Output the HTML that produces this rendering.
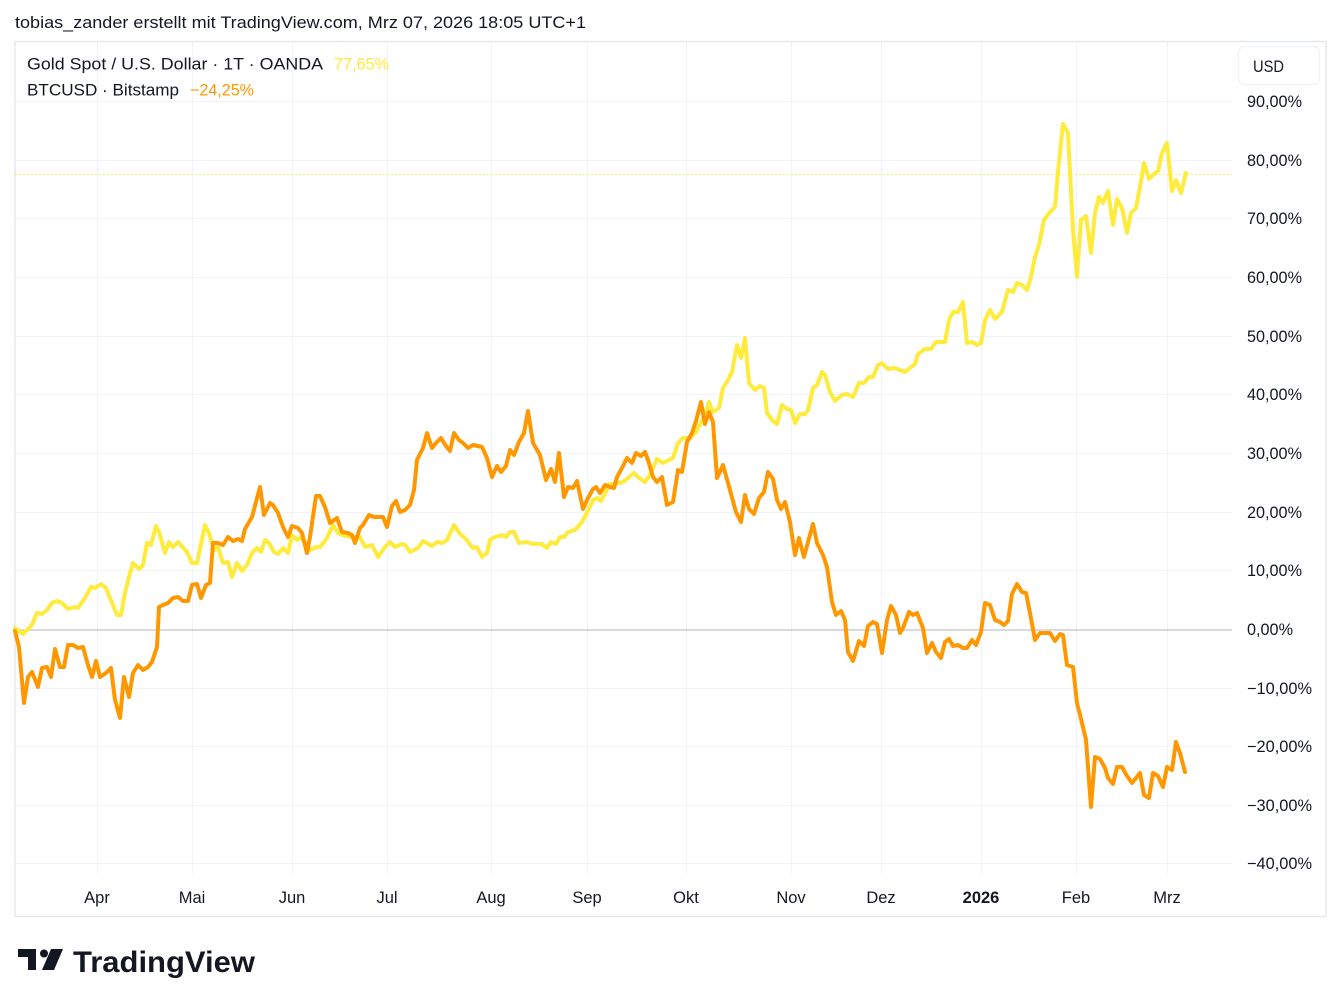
<!DOCTYPE html>
<html><head><meta charset="utf-8"><style>
html,body{margin:0;padding:0;background:#fff;}
svg{display:block;}
text{font-family:"Liberation Sans","DejaVu Sans",sans-serif;fill:#131722;}
</style></head><body>
<svg width="1341" height="1007" viewBox="0 0 1341 1007" xmlns="http://www.w3.org/2000/svg">
<rect width="1341" height="1007" fill="#fff"/>
<text x="15" y="28" font-size="16.5" textLength="571" lengthAdjust="spacingAndGlyphs">tobias_zander erstellt mit TradingView.com, Mrz 07, 2026 18:05 UTC+1</text>
<!-- frame -->
<rect x="15" y="41.5" width="1311" height="875" fill="none" stroke="#e6e8ee" stroke-width="1.5"/>
<!-- grid -->
<g stroke="#f0f3fa" stroke-width="1">
<line x1="15" y1="101.5" x2="1232" y2="101.5"/>
<line x1="15" y1="160.5" x2="1232" y2="160.5"/>
<line x1="15" y1="218.5" x2="1232" y2="218.5"/>
<line x1="15" y1="277.5" x2="1232" y2="277.5"/>
<line x1="15" y1="336.5" x2="1232" y2="336.5"/>
<line x1="15" y1="394.5" x2="1232" y2="394.5"/>
<line x1="15" y1="453.5" x2="1232" y2="453.5"/>
<line x1="15" y1="512.5" x2="1232" y2="512.5"/>
<line x1="15" y1="570.5" x2="1232" y2="570.5"/>
<line x1="15" y1="688.5" x2="1232" y2="688.5"/>
<line x1="15" y1="746.5" x2="1232" y2="746.5"/>
<line x1="15" y1="805.5" x2="1232" y2="805.5"/>
<line x1="15" y1="863.5" x2="1232" y2="863.5"/>
<line x1="97.5" y1="42" x2="97.5" y2="875"/>
<line x1="192.5" y1="42" x2="192.5" y2="875"/>
<line x1="292.5" y1="42" x2="292.5" y2="875"/>
<line x1="387.5" y1="42" x2="387.5" y2="875"/>
<line x1="491.5" y1="42" x2="491.5" y2="875"/>
<line x1="587.5" y1="42" x2="587.5" y2="875"/>
<line x1="686.5" y1="42" x2="686.5" y2="875"/>
<line x1="791.5" y1="42" x2="791.5" y2="875"/>
<line x1="881.5" y1="42" x2="881.5" y2="875"/>
<line x1="981.5" y1="42" x2="981.5" y2="875"/>
<line x1="1076.5" y1="42" x2="1076.5" y2="875"/>
<line x1="1167.5" y1="42" x2="1167.5" y2="875"/>
</g>
<line x1="15" y1="630" x2="1232" y2="630" stroke="#b2b5be" stroke-width="1"/>
<line x1="15" y1="174.5" x2="1232" y2="174.5" stroke="#ffeb3b" stroke-width="1" stroke-dasharray="1.5 2.5"/>
<!-- gold -->
<polyline fill="none" stroke="#ffeb3b" stroke-width="4" stroke-linejoin="round" stroke-linecap="round" points="15,628 23,634 32,625 37,613 42,614 47,610 52,603 57,601 62,603 68,609 75,607 78,608 85,598 91,587 95,588 101,584 106,588 112,603 117,615 121,615 125,593 130,573 133,563 139,569 143,565 147,543 151,545 156,526 159,532 165,553 169,542 173,547 178,542 187,552 192,563 197,563 205,525 209,533 214,550 218,547 223,563 228,562 232,577 237,563 242,571 247,565 252,553 257,548 261,552 265,540 269,543 274,552 278,554 283,548 288,553 292,535 297,540 301,537 305,543 310,550 317,547 320,547 327,538 333,525 338,533 345,536 353,537 360,537 365,547 372,545 378,557 385,547 390,542 395,547 402,544 405,545 410,552 418,548 423,541 432,546 437,542 442,543 447,540 454,525 460,534 465,538 473,548 477,547 482,557 487,553 490,540 495,537 502,535 506,537 510,532 514,532 519,543 527,542 533,544 542,544 547,548 551,542 556,544 560,537 564,537 568,532 575,530 582,522 587,513 593,500 597,498 601,501 605,493 610,484 615,484 623,482 628,478 634,473 638,477 645,482 650,475 657,459 663,463 673,458 678,443 683,438 690,438 696,432 702,420 705,415 709,402 713,412 719,408 723,388 728,380 732,372 737,345 741,358 745,338 749,383 755,390 760,386 764,388 767,413 773,421 777,424 782,405 787,409 791,410 795,423 800,414 805,414 808,410 813,388 817,385 822,372 825,375 830,392 835,401 842,395 847,394 853,397 859,383 864,383 869,377 873,377 878,365 882,363 888,369 894,368 900,370 905,372 910,368 915,364 918,354 925,349 931,349 936,342 945,342 949,320 953,312 958,312 963,302 967,343 972,342 977,345 981,343 985,320 990,310 995,319 1002,312 1008,290 1013,292 1017,283 1022,285 1027,290 1031,277 1035,257 1039,245 1044,220 1050,212 1055,207 1058,172 1063,124 1068,133 1073,230 1077,277 1081,220 1086,216 1091,253 1095,213 1099,197 1103,203 1108,191 1113,225 1117,199 1122,208 1127,233 1131,213 1136,208 1140,187 1144,163 1149,179 1153,175 1158,171 1162,153 1167,143 1172,191 1176,180 1181,193 1186,173"/>
<!-- btc -->
<polyline fill="none" stroke="#ff9800" stroke-width="4" stroke-linejoin="round" stroke-linecap="round" points="15,631 19,647 24,703 28,677 32,672 38,687 42,668 47,667 51,677 55,649 60,667 64,667 68,645 73,645 78,648 83,647 88,665 92,677 96,661 100,677 106,673 111,668 115,700 120,718 124,677 129,697 133,673 138,665 143,670 148,667 152,662 157,647 159,607 163,605 168,603 173,598 178,597 183,601 188,601 192,585 197,584 201,598 206,585 210,583 213,543 218,543 223,545 228,537 233,541 238,539 242,541 245,529 252,517 260,487 264,515 270,503 273,505 278,513 283,527 288,537 292,526 298,528 302,533 307,553 310,537 316,496 320,496 325,507 330,523 337,518 342,532 348,533 352,535 355,543 360,528 363,525 369,515 374,517 383,517 387,527 392,506 396,501 400,512 405,510 410,505 414,490 417,460 423,448 427,433 432,448 436,443 441,438 446,446 450,451 454,433 459,440 463,443 468,448 473,445 482,447 487,458 492,477 497,466 501,472 506,466 510,450 514,455 519,442 524,433 528,411 533,443 540,455 546,480 551,469 555,482 559,453 564,497 568,487 573,488 577,481 583,509 588,498 593,489 596,487 600,493 605,485 610,487 614,488 617,477 622,468 627,458 632,463 636,453 641,456 645,452 648,460 653,477 657,482 662,477 667,505 673,502 678,470 682,472 687,442 692,433 696,421 701,402 705,424 709,412 713,422 717,478 723,465 728,483 736,512 741,522 745,495 749,509 754,514 759,498 764,492 768,472 773,479 777,500 781,509 785,502 790,522 795,555 799,538 804,557 808,542 813,524 817,543 823,555 827,567 832,602 836,615 841,611 845,620 848,652 853,661 859,641 864,646 868,626 873,622 877,624 882,653 887,620 891,606 896,615 900,633 903,628 909,612 913,615 917,613 923,628 927,653 932,643 936,652 941,658 945,642 949,639 953,646 958,645 963,648 967,648 972,640 976,645 981,632 985,603 990,605 995,620 1000,622 1004,625 1008,621 1012,594 1017,584 1022,592 1026,593 1030,613 1035,640 1040,633 1050,633 1055,641 1060,634 1063,635 1067,665 1073,667 1077,703 1082,723 1086,740 1091,807 1095,757 1100,759 1105,768 1108,778 1113,784 1117,767 1122,767 1127,776 1132,783 1136,778 1140,773 1144,795 1149,798 1153,773 1158,776 1163,787 1167,767 1172,770 1176,742 1180,753 1185,772"/>
<!-- legend -->
<text x="27" y="69.5" font-size="16.5" textLength="296" lengthAdjust="spacingAndGlyphs">Gold Spot / U.S. Dollar · 1T · OANDA</text>
<text x="334" y="69.5" font-size="16.5" textLength="55" lengthAdjust="spacingAndGlyphs" style="fill:#ffeb3b">77,65%</text>
<text x="27" y="95.5" font-size="16.5" textLength="152" lengthAdjust="spacingAndGlyphs">BTCUSD · Bitstamp</text>
<text x="190" y="95.5" font-size="16.5" textLength="64" lengthAdjust="spacingAndGlyphs" style="fill:#ff9800">−24,25%</text>
<!-- USD button -->
<rect x="1238.5" y="46.5" width="81" height="38" rx="6" fill="#fff" stroke="#f0f3fa" stroke-width="1.5"/>
<text x="1253" y="72" font-size="17" textLength="31" lengthAdjust="spacingAndGlyphs">USD</text>
<!-- price axis -->
<g font-size="16.5">
<text x="1247" y="107" textLength="55" lengthAdjust="spacingAndGlyphs">90,00%</text>
<text x="1247" y="166" textLength="55" lengthAdjust="spacingAndGlyphs">80,00%</text>
<text x="1247" y="224" textLength="55" lengthAdjust="spacingAndGlyphs">70,00%</text>
<text x="1247" y="283" textLength="55" lengthAdjust="spacingAndGlyphs">60,00%</text>
<text x="1247" y="342" textLength="55" lengthAdjust="spacingAndGlyphs">50,00%</text>
<text x="1247" y="400" textLength="55" lengthAdjust="spacingAndGlyphs">40,00%</text>
<text x="1247" y="459" textLength="55" lengthAdjust="spacingAndGlyphs">30,00%</text>
<text x="1247" y="518" textLength="55" lengthAdjust="spacingAndGlyphs">20,00%</text>
<text x="1247" y="576" textLength="55" lengthAdjust="spacingAndGlyphs">10,00%</text>
<text x="1247" y="635" textLength="46" lengthAdjust="spacingAndGlyphs">0,00%</text>
<text x="1247" y="694" textLength="65" lengthAdjust="spacingAndGlyphs">−10,00%</text>
<text x="1247" y="752" textLength="65" lengthAdjust="spacingAndGlyphs">−20,00%</text>
<text x="1247" y="811" textLength="65" lengthAdjust="spacingAndGlyphs">−30,00%</text>
<text x="1247" y="869" textLength="65" lengthAdjust="spacingAndGlyphs">−40,00%</text>
</g>
<!-- time axis -->
<g font-size="16.5" text-anchor="middle">
<text x="97" y="903">Apr</text>
<text x="192" y="903">Mai</text>
<text x="292" y="903">Jun</text>
<text x="387" y="903">Jul</text>
<text x="491" y="903">Aug</text>
<text x="587" y="903">Sep</text>
<text x="686" y="903">Okt</text>
<text x="791" y="903">Nov</text>
<text x="881" y="903">Dez</text>
<text x="981" y="903" font-weight="bold">2026</text>
<text x="1076" y="903">Feb</text>
<text x="1167" y="903">Mrz</text>
</g>
<!-- logo -->
<g fill="#131722">
<path d="M18,949 H36 V970 H28 V957 H18 Z"/>
<circle cx="44" cy="953.5" r="4"/>
<path d="M51,949 H63 L54,970 H42 Z"/>
</g>
<text x="73" y="972" font-size="30" font-weight="bold" textLength="182" lengthAdjust="spacingAndGlyphs">TradingView</text>
</svg>
</body></html>
